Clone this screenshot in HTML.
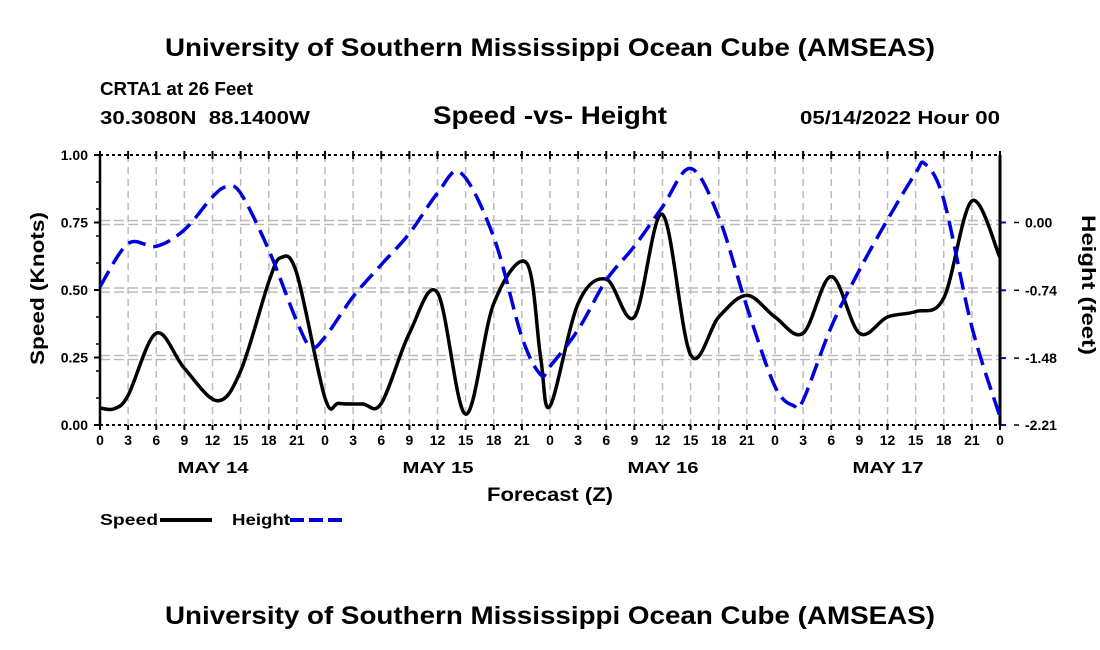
<!DOCTYPE html>
<html><head><meta charset="utf-8"><style>
body{margin:0;background:#fff;}
svg{display:block;font-family:"Liberation Sans",sans-serif;font-weight:bold;}
</style></head><body>
<svg id="c" width="1100" height="650" viewBox="0 0 1100 650">
<text x="165" y="56" font-size="25" textLength="770" lengthAdjust="spacingAndGlyphs">University of Southern Mississippi Ocean Cube (AMSEAS)</text>
<text x="100" y="95" font-size="18" textLength="153" lengthAdjust="spacingAndGlyphs">CRTA1 at 26 Feet</text>
<text x="100" y="124" font-size="18" textLength="210" lengthAdjust="spacingAndGlyphs" xml:space="preserve">30.3080N  88.1400W</text>
<text x="433" y="124" font-size="25" textLength="234" lengthAdjust="spacingAndGlyphs">Speed -vs- Height</text>
<text x="800" y="124" font-size="18" textLength="200" lengthAdjust="spacingAndGlyphs">05/14/2022 Hour 00</text>
<g id="grid"></g>
<g id="axes"></g>
<g id="series"></g>
<text x="487" y="501" font-size="19" textLength="126" lengthAdjust="spacingAndGlyphs">Forecast (Z)</text>
<text transform="translate(44,365) rotate(-90)" font-size="19" textLength="153" lengthAdjust="spacingAndGlyphs">Speed (Knots)</text>
<text transform="translate(1082,215) rotate(90)" font-size="19" textLength="140" lengthAdjust="spacingAndGlyphs">Height (feet)</text>
<g><text x="100" y="525" font-size="16" textLength="58" lengthAdjust="spacingAndGlyphs">Speed</text><line x1="160" y1="520" x2="212" y2="520" stroke="#000" stroke-width="4"/></g>
<g><text x="232" y="525" font-size="16" textLength="58" lengthAdjust="spacingAndGlyphs">Height</text><line x1="290" y1="520" x2="342" y2="520" stroke="#0000dd" stroke-width="4" stroke-dasharray="14,5"/></g>
<text x="165" y="624" font-size="25" textLength="770" lengthAdjust="spacingAndGlyphs">University of Southern Mississippi Ocean Cube (AMSEAS)</text>
</svg>
<script>
const speedHours=[0,1.5,3,6,9,12.5,15,18,19.3,21,24,25.5,28,30,33,36,39,42,45.5,47,48,51,54,57,60,63,66,69,72,75,78,81,84,87,90,93,96];
const speedValues=[0.063,0.06,0.11,0.34,0.21,0.09,0.20,0.53,0.62,0.56,0.10,0.08,0.078,0.08,0.34,0.49,0.04,0.45,0.60,0.25,0.07,0.45,0.54,0.40,0.78,0.26,0.40,0.48,0.40,0.34,0.55,0.34,0.40,0.42,0.47,0.83,0.62];
const heightHours=[0,3,6,9,12,13.5,15,18,21,22.5,24,27,30,33,36,38.5,42,45,47,48,51,54,57,60,63,66,69,72,74,75,78,81,84,87,88,90,93,96];
const heightValues=[-0.70,-0.23,-0.26,-0.08,0.28,0.39,0.32,-0.30,-1.08,-1.36,-1.25,-0.81,-0.46,-0.12,0.32,0.54,-0.16,-1.25,-1.66,-1.57,-1.17,-0.63,-0.26,0.17,0.59,0.06,-0.92,-1.79,-2.00,-1.94,-1.14,-0.52,0.03,0.54,0.64,0.25,-1.14,-2.12];
const speedTicks=["0.00","0.25","0.50","0.75","1.00"];
const heightTicks=["0.00","-0.74","-1.48","-2.21"];
const dayLabels=["MAY 14","MAY 15","MAY 16","MAY 17"];
const hourLabels=["0","3","6","9","12","15","18","21"];
const NS="http://www.w3.org/2000/svg";
const X0=100,X1=1000,Y0=425,Y1=155;
const xs=h=>X0+h/96*(X1-X0);
const ys=v=>Y0-v*(Y0-Y1);
const yh=f=>ys(0.75+f*0.75/2.21);
function mk(tag,attrs,parent,txt){const e=document.createElementNS(NS,tag);for(const k in attrs)e.setAttribute(k,attrs[k]);if(txt!==undefined)e.textContent=txt;parent.appendChild(e);return e;}
const grid=document.getElementById('grid'),axes=document.getElementById('axes'),series=document.getElementById('series');
for(let h=3;h<96;h+=3){const l=mk('line',{x1:xs(h),y1:Y1,x2:xs(h),y2:Y0,stroke:'#bbb','stroke-width':1.5,'stroke-dasharray':'7,5'},grid);

}
speedTicks.forEach((t,i)=>{const v=parseFloat(t);const y=ys(v);
if(i>0&&i<4){[-2,2].forEach(d=>{const l=mk('line',{x1:X0,y1:y+d,x2:X1,y2:y+d,stroke:'#bbb','stroke-width':1.5,'stroke-dasharray':'10,4'},grid);

});}
const tx=mk('text',{x:88,y:y+5,'text-anchor':'end','font-size':14},axes,t);


mk('line',{x1:X0-6,y1:y,x2:X0,y2:y,stroke:'#000','stroke-width':2},axes);});
for(let v=0.1;v<1;v+=0.1)mk('line',{x1:X0-4,y1:ys(v),x2:X0,y2:ys(v),stroke:'#000','stroke-width':1.5},axes);
heightTicks.forEach(t=>{const y=yh(parseFloat(t));
mk('line',{x1:X1,y1:y,x2:X1+6,y2:y,stroke:'#0000dd','stroke-width':2},axes);
mk('line',{x1:X1+14,y1:y,x2:X1+19,y2:y,stroke:'#000','stroke-width':1.5},axes);
const tx=mk('text',{x:1025,y:y+5,'font-size':14},axes,t);

});
mk('line',{x1:X0,y1:Y1,x2:X1,y2:Y1,stroke:'#000','stroke-width':2,'stroke-dasharray':'3,3'},axes);
mk('line',{x1:X0,y1:Y0,x2:X1,y2:Y0,stroke:'#000','stroke-width':2,'stroke-dasharray':'3,3'},axes);
mk('line',{x1:X0,y1:Y1,x2:X0,y2:Y0,stroke:'#000','stroke-width':2.5},axes);
mk('line',{x1:X1,y1:Y1,x2:X1,y2:Y0,stroke:'#000','stroke-width':3},axes);
for(let h=0;h<=96;h+=3){const lab=h===96?"0":hourLabels[(h%24)/3];
mk('line',{x1:xs(h),y1:Y0,x2:xs(h),y2:Y0+5,stroke:'#000','stroke-width':2},axes);
mk('line',{x1:xs(h),y1:Y1-4,x2:xs(h),y2:Y1+4,stroke:'#000','stroke-width':2},axes);
const tx=mk('text',{x:xs(h),y:445,'text-anchor':'middle','font-size':14},axes,lab);

}
dayLabels.forEach((d,i)=>{const tx=mk('text',{x:xs(12+24*i)-35,y:473,'font-size':16,textLength:71,lengthAdjust:'spacingAndGlyphs'},axes,d);

});
function path(hs,vs,fy){const p=hs.map((h,i)=>[xs(h),fy(vs[i])]);let d='M'+p[0][0]+','+p[0][1];
for(let i=0;i<p.length-1;i++){const a=p[i-1]||p[i],b=p[i],c=p[i+1],e=p[i+2]||c;
d+=' C'+(b[0]+(c[0]-a[0])/6)+','+(b[1]+(c[1]-a[1])/6)+' '+(c[0]-(e[0]-b[0])/6)+','+(c[1]-(e[1]-b[1])/6)+' '+c[0]+','+c[1];}return d;}
const sp=mk('path',{d:path(speedHours,speedValues,ys),fill:'none',stroke:'#000','stroke-width':3.5},series);


const hp=mk('path',{d:path(heightHours,heightValues,yh),fill:'none',stroke:'#0000dd','stroke-width':3.5,'stroke-dasharray':'18,8'},series);


</script>
</body></html>
